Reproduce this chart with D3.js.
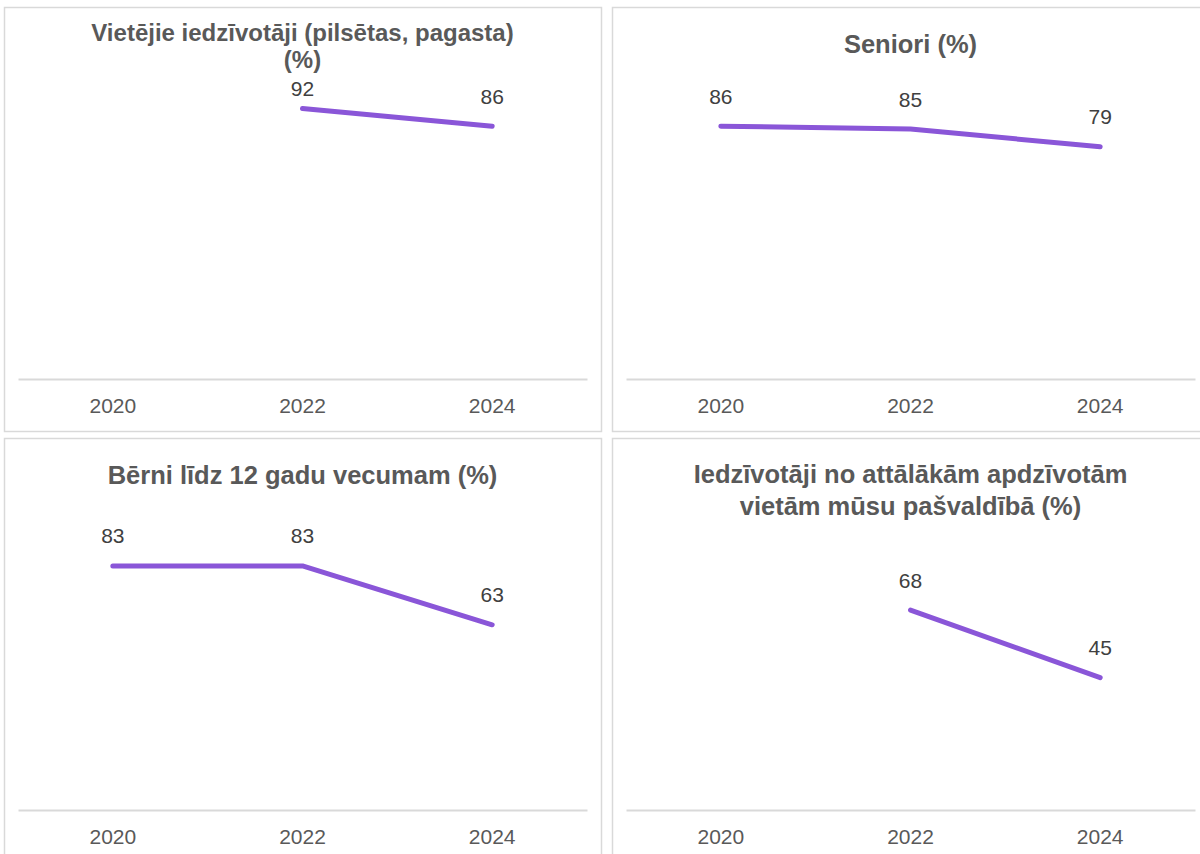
<!DOCTYPE html>
<html>
<head>
<meta charset="utf-8">
<script src="https://cdn.jsdelivr.net/npm/d3@7"></script>
<style>
  html, body { margin: 0; padding: 0; background: #ffffff; }
  svg { display: block; }
</style>
</head>
<body>
<svg id="chart" width="1200" height="854"></svg>
<script>
// Survey years shown on every panel
const years = ["2020", "2022", "2024"];

// Panel titles (already broken into lines)
const titleVietejie = ["Vietējie iedzīvotāji (pilsētas, pagasta)", "(%)"];
const titleSeniori = ["Seniori (%)"];
const titleBerni = ["Bērni līdz 12 gadu vecumam (%)"];
const titleAttalakam = ["Iedzīvotāji no attālākām apdzīvotām", "vietām mūsu pašvaldībā (%)"];

// Shares per year (null = no survey data for that year)
const valuesVietejie = [null, 92, 86];
const valuesSeniori = [86, 85, 79];
const valuesBerni = [83, 83, 63];
const valuesAttalakam = [null, 68, 45];

const panels = [
  { title: titleVietejie, values: valuesVietejie, col: 0, row: 0, fontSize: 24, lineGap: 27, titleY: 25 },
  { title: titleSeniori, values: valuesSeniori, col: 1, row: 0, fontSize: 25.5, lineGap: 32, titleY: 37 },
  { title: titleBerni, values: valuesBerni, col: 0, row: 1, fontSize: 25.5, lineGap: 32, titleY: 37 },
  { title: titleAttalakam, values: valuesAttalakam, col: 1, row: 1, fontSize: 25.5, lineGap: 32, titleY: 36 }
];

const svg = d3.select("#chart");
const panelW = 597, panelH = 424;
const colX = [4, 612], rowY = [7, 438];
const plotLeft = 14, plotRight = 583, plotTop = 78, axisY = 372;

const x = d3.scaleBand().domain(years).range([plotLeft, plotRight]).paddingInner(0).paddingOuter(0);
const y = d3.scaleLinear().domain([0, 100]).range([axisY, plotTop]);

const lineColor = "#8a56d8";
const textColor = "#595959";

panels.forEach(p => {
  const g = svg.append("g")
    .attr("transform", `translate(${colX[p.col]},${rowY[p.row]})`);

  // panel frame
  g.append("rect")
    .attr("x", 0.5).attr("y", 0.5)
    .attr("width", panelW).attr("height", panelH)
    .attr("fill", "#ffffff")
    .attr("stroke", "#d9d9d9")
    .attr("stroke-width", 1.5);

  // title
  const t = g.append("text")
    .attr("text-anchor", "middle")
    .attr("font-family", "Liberation Sans, Arial, sans-serif")
    .attr("font-weight", "bold")
    .attr("font-size", p.fontSize)
    .attr("fill", textColor);
  p.title.forEach((ln, i) => {
    t.append("tspan")
      .attr("x", (plotLeft + plotRight) / 2)
      .attr("y", p.titleY + i * p.lineGap + p.fontSize * 0.355)
      .text(ln);
  });

  // category axis
  const axis = d3.axisBottom(x).tickSize(0).tickPadding(0);
  const ax = g.append("g").attr("transform", `translate(0,${axisY})`).call(axis);
  ax.select(".domain").attr("stroke", "#d9d9d9").attr("stroke-width", 2);
  ax.selectAll(".tick text")
    .attr("font-family", "Liberation Sans, Arial, sans-serif")
    .attr("font-size", 21)
    .attr("fill", textColor)
    .attr("dy", null)
    .attr("y", 33.5);

  // series line
  const pts = years.map((yr, i) => ({ yr, v: p.values[i] }));
  const line = d3.line()
    .defined(d => d.v !== null)
    .x(d => x(d.yr) + x.bandwidth() / 2)
    .y(d => y(d.v));
  g.append("path")
    .datum(pts)
    .attr("d", line)
    .attr("fill", "none")
    .attr("stroke", lineColor)
    .attr("stroke-width", 5)
    .attr("stroke-linecap", "round")
    .attr("stroke-linejoin", "round");

  // value labels, kept inside the plot area
  g.selectAll("text.val")
    .data(pts.filter(d => d.v !== null))
    .join("text")
    .attr("class", "val")
    .attr("text-anchor", "middle")
    .attr("font-family", "Liberation Sans, Arial, sans-serif")
    .attr("font-size", 21)
    .attr("fill", "#404040")
    .attr("x", d => x(d.yr) + x.bandwidth() / 2)
    .attr("y", d => Math.max(y(d.v) - 30, plotTop + 3) + 7.5)
    .text(d => d.v);
});
</script>
</body>
</html>
